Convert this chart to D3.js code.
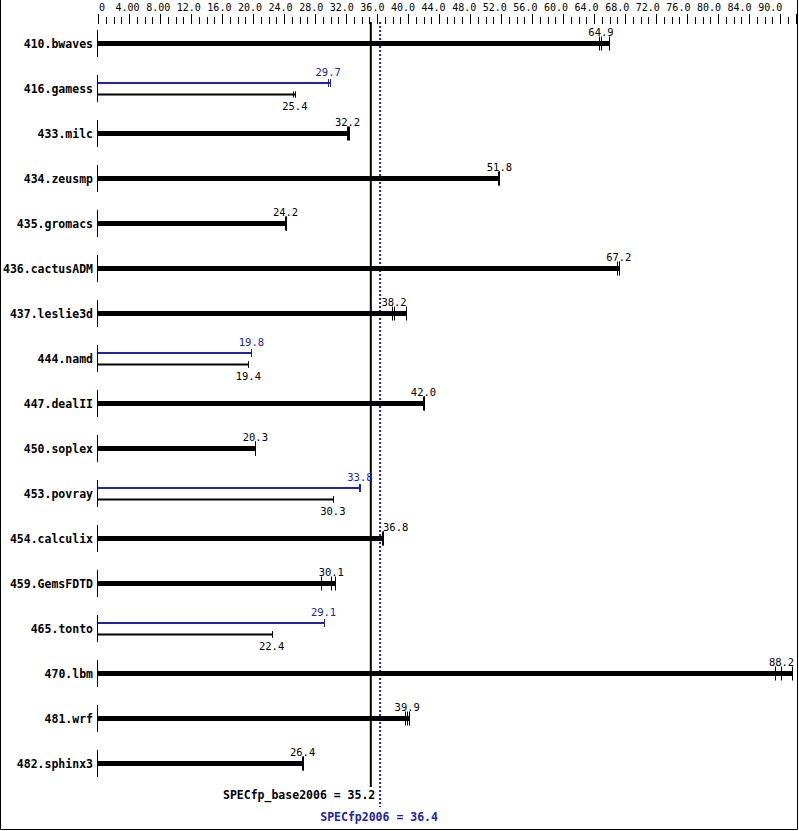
<!DOCTYPE html>
<html><head><meta charset="utf-8">
<script src="https://cdn.jsdelivr.net/npm/d3@7"></script>
<style>body{margin:0;background:#fff}</style>
</head><body><svg id="c" width="799" height="831"></svg>
<script>
const benchmarks = ["410.bwaves","416.gamess","433.milc","434.zeusmp","435.gromacs","436.cactusADM","437.leslie3d","444.namd","447.dealII","450.soplex","453.povray","454.calculix","459.GemsFDTD","465.tonto","470.lbm","481.wrf","482.sphinx3"];
const baseRatio = [64.9,25.4,32.2,51.8,24.2,67.2,38.2,19.4,42.0,20.3,30.3,36.8,30.1,22.4,88.2,39.9,26.4];
const baseRuns = [[64.6,64.9,65.9],[25.1,25.4,25.4],[32.1,32.2,32.4],[51.6,51.8,51.8],[24.1,24.2,24.2],[67.0,67.2,67.2],[37.9,38.2,39.8],[19.4,19.4,19.4],[41.9,42.0,42.0],[20.2,20.3,20.3],[30.3,30.3,30.3],[36.6,36.8,36.8],[28.8,30.1,30.6],[22.4,22.4,22.4],[87.3,88.1,89.6],[39.6,39.9,40.1],[26.3,26.4,26.4]];
const peakRatio = [null,29.7,null,null,null,null,null,19.8,null,null,33.8,null,null,29.1,null,null,null];
const peakRuns = [null,[29.7,29.7,29.9],null,null,null,null,null,[19.8,19.8,19.8],null,null,[33.7,33.8,33.8],null,null,[29.1,29.1,29.2],null,null,null];
const axisLabels = ["0","4.00","8.00","12.0","16.0","20.0","24.0","28.0","32.0","36.0","40.0","44.0","48.0","52.0","56.0","60.0","64.0","68.0","72.0","76.0","80.0","84.0","90.0"];
const baseScore = 35.2, peakScore = 36.4;
const baseLabel = "SPECfp_base2006 = 35.2", peakLabel = "SPECfp2006 = 36.4";

const BLUE = "#2222aa";
const svg = d3.select("#c");
const x = d3.scaleLinear().domain([0, 90]).range([98, 795.5]);
const y = d3.scalePoint().domain(benchmarks).range([43.5, 763.5]);
const labelX = d3.scaleLinear().domain([1, 22]).range([127.6, 770.2]);
const px = v => Math.round(x(v)) + 0.5;
const VAL_HALF = 12.6; // half width of a 4-char value label

// keep value labels clear of the score lines when centred between them
function labelPos(v) {
  const cx = x(v);
  const lo = x(baseScore) - 1, hi = x(peakScore) + 1;
  if (cx > lo && cx - VAL_HALF < hi) return hi + 2 + VAL_HALF;
  return cx;
}

// border
svg.append("path").attr("d", "M0.5,0 V829.5 H797.5 V0").attr("fill", "none").attr("stroke", "#000");

// top axis ticks
const ticks = d3.range(0, 91);
svg.append("g").selectAll("line").data(ticks).join("line")
  .attr("x1", d => px(d)).attr("x2", d => px(d))
  .attr("y1", d => (d % 4 === 0 || d === 90) ? 14 : 17).attr("y2", 24)
  .attr("stroke", "#000").attr("stroke-width", 1);
svg.append("g").selectAll("text").data(axisLabels).join("text")
  .attr("x", (d, i) => i === 0 ? 102 : labelX(i)).attr("y", 11)
  .attr("text-anchor", "middle")
  .attr("font-family", "DejaVu Sans Mono").attr("font-size", 10)
  .text(d => d);

// score lines
svg.append("line").attr("x1", x(baseScore)).attr("x2", x(baseScore)).attr("y1", 22).attr("y2", 787)
  .attr("stroke", "#000").attr("stroke-width", 2);
svg.append("line").attr("x1", x(peakScore)).attr("x2", x(peakScore)).attr("y1", 22).attr("y2", 807)
  .attr("stroke", BLUE).attr("stroke-width", 2).attr("stroke-dasharray", "2,2");

const g = svg.append("g");
benchmarks.forEach((b, i) => {
  const c = y(b);
  g.append("text").attr("x", 93).attr("y", c + 4).attr("text-anchor", "end")
    .attr("font-family", "DejaVu Sans Mono").attr("font-weight", "bold").attr("font-size", 11.5).text(b);
  g.append("line").attr("x1", x(0) - 0.5).attr("x2", x(0) - 0.5).attr("y1", c - 13.5).attr("y2", c + 13.5)
    .attr("stroke", "#000");
  if (peakRatio[i] === null) {
    const runs = baseRuns[i];
    g.append("line").attr("x1", x(0)).attr("x2", px(d3.max(runs)) + 0.5).attr("y1", c).attr("y2", c)
      .attr("stroke", "#000").attr("stroke-width", 5);
    g.selectAll(null).data(runs).enter().append("line")
      .attr("x1", d => px(d)).attr("x2", d => px(d)).attr("y1", c - 7).attr("y2", c + 7)
      .attr("stroke", "#000");
    g.append("text").attr("x", labelPos(baseRatio[i])).attr("y", c - 8).attr("text-anchor", "middle")
      .attr("font-family", "DejaVu Sans Mono").attr("font-size", 10.5).text(baseRatio[i].toFixed(1));
  } else {
    const pr = peakRuns[i], br = baseRuns[i];
    const yp = c - 5.5, yb = c + 6;
    g.append("line").attr("x1", x(0)).attr("x2", px(d3.max(pr))).attr("y1", yp).attr("y2", yp)
      .attr("stroke", BLUE).attr("stroke-width", 2);
    g.selectAll(null).data(pr).enter().append("line")
      .attr("x1", d => px(d)).attr("x2", d => px(d)).attr("y1", yp - 4).attr("y2", yp + 4)
      .attr("stroke", BLUE);
    g.append("text").attr("x", labelPos(peakRatio[i])).attr("y", c - 12.5).attr("text-anchor", "middle")
      .attr("fill", BLUE).attr("font-family", "DejaVu Sans Mono").attr("font-size", 10.5).text(peakRatio[i].toFixed(1));
    g.append("line").attr("x1", x(0)).attr("x2", px(d3.max(br))).attr("y1", yb).attr("y2", yb)
      .attr("stroke", "#000").attr("stroke-width", 2);
    g.selectAll(null).data(br).enter().append("line")
      .attr("x1", d => px(d)).attr("x2", d => px(d)).attr("y1", yb - 3).attr("y2", yb + 3)
      .attr("stroke", "#000");
    g.append("text").attr("x", labelPos(baseRatio[i])).attr("y", c + 21.5).attr("text-anchor", "middle")
      .attr("font-family", "DejaVu Sans Mono").attr("font-size", 10.5).text(baseRatio[i].toFixed(1));
  }
});

svg.append("text").attr("x", x(baseScore) + 4.5).attr("y", 799).attr("text-anchor", "end")
  .attr("font-family", "DejaVu Sans Mono").attr("font-weight", "bold").attr("font-size", 11.5).text(baseLabel);
svg.append("text").attr("x", x(peakScore) - 1).attr("y", 821).attr("text-anchor", "middle").attr("fill", BLUE)
  .attr("font-family", "DejaVu Sans Mono").attr("font-weight", "bold").attr("font-size", 11.5).text(peakLabel);
</script></body></html>
